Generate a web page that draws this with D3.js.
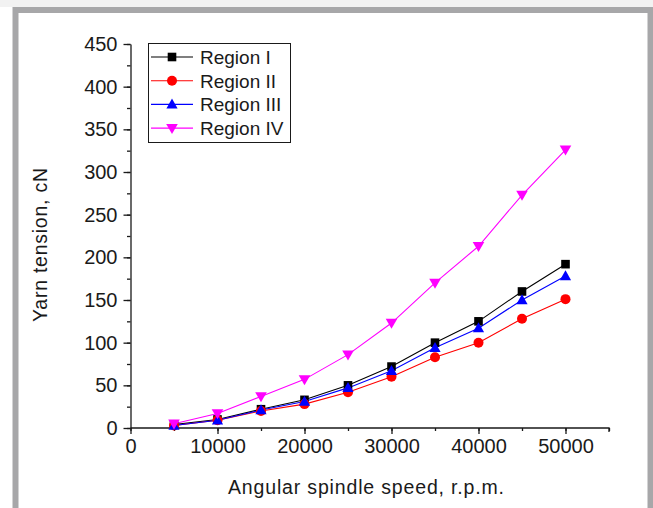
<!DOCTYPE html>
<html>
<head>
<meta charset="utf-8">
<script src="https://cdn.jsdelivr.net/npm/d3@7"></script>
<style>
  body { margin: 0; background: #fff; }
  svg { display: block; font-family: "Liberation Sans", Arial, sans-serif; }
</style>
</head>
<body>
<svg id="chart"></svg>
<script>
// Data
const speeds = [5000, 10000, 15000, 20000, 25000, 30000, 35000, 40000, 45000, 50000];
const regionI = [4, 10, 22, 33, 50, 72, 100, 125, 160, 192];
const regionII = [3, 9, 20, 28, 42, 60, 83, 100, 128, 151];
const regionIII = [3, 9, 21, 31, 47, 67, 94, 117, 150, 178];
const regionIV = [5, 17, 37, 57, 86, 123, 170, 213, 273, 326];
const seriesNames = ["Region I", "Region II", "Region III", "Region IV"];
const xTicks = [0, 10000, 20000, 30000, 40000, 50000];
const yTicks = [0, 50, 100, 150, 200, 250, 300, 350, 400, 450];

const width = 653, height = 508;
const svg = d3.select("#chart").attr("width", width).attr("height", height);

// Frame
svg.append("rect").attr("x", 0).attr("y", 0).attr("width", width).attr("height", 7).attr("fill", "#f2f2f2");
svg.append("path")
  .attr("d", `M15.5,${height} V10 H650.5 V${height}`)
  .attr("fill", "none").attr("stroke", "#a7a7a9").attr("stroke-width", 6);

const x = d3.scaleLinear().domain([0, 55000]).range([130.5, 609]);
const y = d3.scaleLinear().domain([0, 450]).range([428, 44]);

const g = svg.append("g");
const ink = "#1a1a1a";

// X axis
const xAxis = g.append("g").attr("transform", "translate(0,428)");
xAxis.call(d3.axisBottom(x).tickValues(d3.range(0, 55001, 5000)).tickSize(3).tickFormat(""))
  .call(a => a.select(".domain").remove());
xAxis.append("g").call(d3.axisBottom(x).tickValues(xTicks).tickSize(6).tickSizeOuter(0)
    .tickPadding(5).tickFormat(d3.format("d")))
  .call(a => a.select(".domain").attr("d", "M130.5,0H609V4"))
  .call(a => a.selectAll("text").attr("font-size", 20).attr("fill", ink).attr("font-family", "Liberation Sans, Arial"));
xAxis.selectAll("line").attr("stroke", ink).attr("stroke-width", 1.3);
xAxis.selectAll(".domain").attr("stroke", ink).attr("stroke-width", 1.3);

// Y axis
const yAxis = g.append("g").attr("transform", "translate(130.5,0)");
yAxis.call(d3.axisLeft(y).tickValues(d3.range(0, 451, 25)).tickSize(3.5).tickFormat(""))
  .call(a => a.select(".domain").remove());
yAxis.append("g").call(d3.axisLeft(y).tickValues(yTicks).tickSize(7).tickSizeOuter(0).tickPadding(6))
  .call(a => a.selectAll("text").attr("font-size", 20).attr("fill", ink).attr("font-family", "Liberation Sans, Arial"));
yAxis.selectAll("line").attr("stroke", ink).attr("stroke-width", 1.3);
yAxis.selectAll(".domain").attr("stroke", ink).attr("stroke-width", 1.3);

// Axis titles
svg.append("text").attr("x", 366).attr("y", 494).attr("text-anchor", "middle")
  .attr("font-size", 19.5).attr("textLength", 276).attr("lengthAdjust", "spacing")
  .attr("fill", ink).text("Angular spindle speed, r.p.m.");
svg.append("text").attr("transform", "translate(47,245) rotate(-90)").attr("text-anchor", "middle")
  .attr("font-size", 19.5).attr("textLength", 154).attr("lengthAdjust", "spacing")
  .attr("fill", ink).text("Yarn tension, cN");

// Series
const colors = ["#000000", "#ff0000", "#0000ff", "#ff00ff"];
const symbols = ["square", "circle", "up", "down"];
const allValues = [regionI, regionII, regionIII, regionIV];

function drawMarker(sel, kind, color, cx, cy) {
  if (kind === "square") {
    sel.append("rect").attr("x", cx - 4.3).attr("y", cy - 4.3).attr("width", 8.6).attr("height", 8.6).attr("fill", color);
  } else if (kind === "circle") {
    sel.append("circle").attr("cx", cx).attr("cy", cy).attr("r", 5).attr("fill", color);
  } else if (kind === "up") {
    sel.append("path").attr("d", `M${cx},${cy - 5.8} L${cx + 5.6},${cy + 4.2} L${cx - 5.6},${cy + 4.2}Z`).attr("fill", color);
  } else {
    sel.append("path").attr("d", `M${cx},${cy + 5.8} L${cx + 5.8},${cy - 4.2} L${cx - 5.8},${cy - 4.2}Z`).attr("fill", color);
  }
}

const line = d3.line().x(d => x(d[0])).y(d => y(d[1]));
allValues.forEach((vals, i) => {
  const pts = speeds.map((s, j) => [s, vals[j]]);
  g.append("path").attr("d", line(pts)).attr("fill", "none").attr("stroke", colors[i]).attr("stroke-width", 1.1);
});
allValues.forEach((vals, i) => {
  const mg = g.append("g");
  speeds.forEach((s, j) => drawMarker(mg, symbols[i], colors[i], x(s), y(vals[j])));
});

// Legend
const leg = svg.append("g");
leg.append("rect").attr("x", 148.5).attr("y", 43.5).attr("width", 142).attr("height", 99)
  .attr("fill", "#fff").attr("stroke", ink).attr("stroke-width", 1);
seriesNames.forEach((name, i) => {
  const ry = 57 + i * 23.7;
  leg.append("line").attr("x1", 151).attr("x2", 193).attr("y1", ry).attr("y2", ry)
    .attr("stroke", colors[i]).attr("stroke-width", 1.1);
  drawMarker(leg, symbols[i], colors[i], 172, ry);
  leg.append("text").attr("x", 200).attr("y", ry + 7).attr("font-size", 19).attr("fill", ink).text(name);
});
</script>
</body>
</html>
